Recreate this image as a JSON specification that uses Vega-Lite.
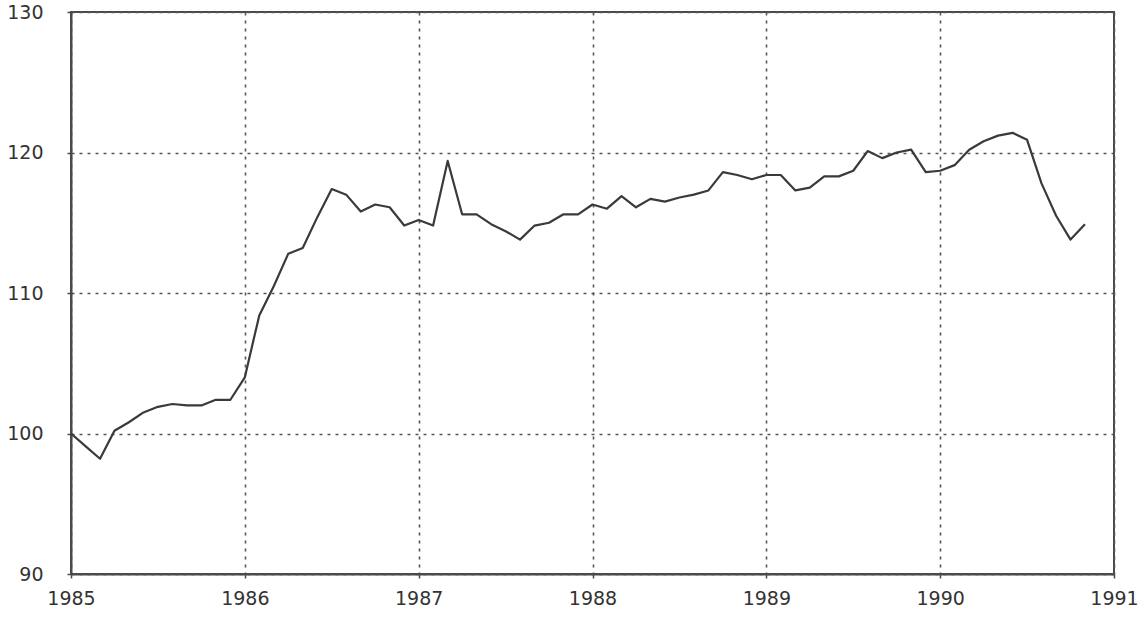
{
  "$schema": "https://vega.github.io/schema/vega-lite/v6.json",
  "width": 1043,
  "height": 562,
  "autosize": "none",
  "padding": {"left": 71, "top": 12, "right": 31, "bottom": 46},
  "background": "white",
  "config": {
    "view": {"stroke": "#4a4a4a", "strokeWidth": 2},
    "axis": {
      "labelFont": "DejaVu Sans",
      "labelFontSize": 19,
      "labelColor": "#333333",
      "domainColor": "#4a4a4a",
      "domainWidth": 2,
      "tickColor": "#4a4a4a",
      "tickWidth": 1.5,
      "tickSize": 4,
      "gridColor": "#555555",
      "gridWidth": 1.6,
      "gridDash": [3, 5],
      "gridOpacity": 1,
      "title": null
    }
  },
  "data": {
    "values": [
      {"year": 1985.000, "value": 100.0},
      {"year": 1985.083, "value": 99.1},
      {"year": 1985.167, "value": 98.2},
      {"year": 1985.250, "value": 100.2},
      {"year": 1985.333, "value": 100.8},
      {"year": 1985.417, "value": 101.5},
      {"year": 1985.500, "value": 101.9},
      {"year": 1985.583, "value": 102.1},
      {"year": 1985.667, "value": 102.0},
      {"year": 1985.750, "value": 102.0},
      {"year": 1985.833, "value": 102.4},
      {"year": 1985.917, "value": 102.4},
      {"year": 1986.000, "value": 104.0},
      {"year": 1986.083, "value": 108.4},
      {"year": 1986.167, "value": 110.5},
      {"year": 1986.250, "value": 112.8},
      {"year": 1986.333, "value": 113.2},
      {"year": 1986.417, "value": 115.4},
      {"year": 1986.500, "value": 117.4},
      {"year": 1986.583, "value": 117.0},
      {"year": 1986.667, "value": 115.8},
      {"year": 1986.750, "value": 116.3},
      {"year": 1986.833, "value": 116.1},
      {"year": 1986.917, "value": 114.8},
      {"year": 1987.000, "value": 115.2},
      {"year": 1987.083, "value": 114.8},
      {"year": 1987.167, "value": 119.4},
      {"year": 1987.250, "value": 115.6},
      {"year": 1987.333, "value": 115.6},
      {"year": 1987.417, "value": 114.9},
      {"year": 1987.500, "value": 114.4},
      {"year": 1987.583, "value": 113.8},
      {"year": 1987.667, "value": 114.8},
      {"year": 1987.750, "value": 115.0},
      {"year": 1987.833, "value": 115.6},
      {"year": 1987.917, "value": 115.6},
      {"year": 1988.000, "value": 116.3},
      {"year": 1988.083, "value": 116.0},
      {"year": 1988.167, "value": 116.9},
      {"year": 1988.250, "value": 116.1},
      {"year": 1988.333, "value": 116.7},
      {"year": 1988.417, "value": 116.5},
      {"year": 1988.500, "value": 116.8},
      {"year": 1988.583, "value": 117.0},
      {"year": 1988.667, "value": 117.3},
      {"year": 1988.750, "value": 118.6},
      {"year": 1988.833, "value": 118.4},
      {"year": 1988.917, "value": 118.1},
      {"year": 1989.000, "value": 118.4},
      {"year": 1989.083, "value": 118.4},
      {"year": 1989.167, "value": 117.3},
      {"year": 1989.250, "value": 117.5},
      {"year": 1989.333, "value": 118.3},
      {"year": 1989.417, "value": 118.3},
      {"year": 1989.500, "value": 118.7},
      {"year": 1989.583, "value": 120.1},
      {"year": 1989.667, "value": 119.6},
      {"year": 1989.750, "value": 120.0},
      {"year": 1989.833, "value": 120.2},
      {"year": 1989.917, "value": 118.6},
      {"year": 1990.000, "value": 118.7},
      {"year": 1990.083, "value": 119.1},
      {"year": 1990.167, "value": 120.2},
      {"year": 1990.250, "value": 120.8},
      {"year": 1990.333, "value": 121.2},
      {"year": 1990.417, "value": 121.4},
      {"year": 1990.500, "value": 120.9},
      {"year": 1990.583, "value": 117.8},
      {"year": 1990.667, "value": 115.5},
      {"year": 1990.750, "value": 113.8},
      {"year": 1990.833, "value": 114.9}
    ]
  },
  "mark": {"type": "line", "color": "#3a3a3a", "strokeWidth": 2.2, "strokeJoin": "round"},
  "encoding": {
    "x": {
      "field": "year",
      "type": "quantitative",
      "scale": {"domain": [1985, 1991], "nice": false, "zero": false},
      "axis": {"values": [1985, 1986, 1987, 1988, 1989, 1990, 1991], "format": "d", "labelPadding": 11, "labelFlush": false, "labelOverlap": false}
    },
    "y": {
      "field": "value",
      "type": "quantitative",
      "scale": {"domain": [90, 130], "nice": false, "zero": false},
      "axis": {"values": [90, 100, 110, 120, 130], "labelPadding": 24, "labelOverlap": false}
    }
  }
}
